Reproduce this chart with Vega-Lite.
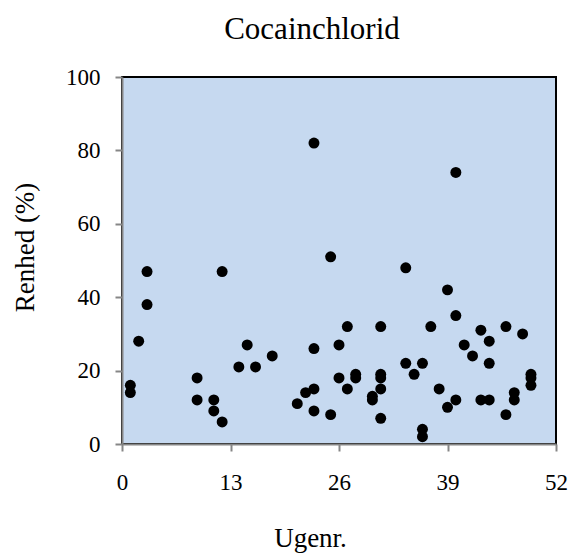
{
  "$schema": "https://vega.github.io/schema/vega-lite/v6.json",
  "width": 434,
  "height": 367,
  "autosize": "none",
  "padding": {"left": 122, "top": 77, "right": 15, "bottom": 109},
  "background": "white",
  "title": {
    "text": "Cocainchlorid",
    "font": "Liberation Serif",
    "fontSize": 31,
    "fontWeight": "normal",
    "color": "black",
    "anchor": "middle",
    "baseline": "alphabetic",
    "offset": 28,
    "dx": -27,
    "dy": 32
  },
  "config": {
    "view": {"fill": "#C6D9F0", "stroke": "black", "strokeWidth": 2},
    "axis": {
      "grid": false,
      "domainColor": "#868686",
      "domainWidth": 2,
      "tickColor": "#868686",
      "tickWidth": 2,
      "tickSize": 7,
      "labelFont": "Liberation Serif",
      "labelFontSize": 23,
      "labelColor": "black",
      "titleFont": "Liberation Serif",
      "titleFontSize": 27,
      "titleFontWeight": "normal",
      "titleColor": "black"
    }
  },
  "data": {
    "values": [
      {"ugenr": 1, "renhed": 16}, {"ugenr": 1, "renhed": 14}, {"ugenr": 2, "renhed": 28},
      {"ugenr": 3, "renhed": 47}, {"ugenr": 3, "renhed": 38}, {"ugenr": 9, "renhed": 18},
      {"ugenr": 9, "renhed": 12}, {"ugenr": 11, "renhed": 12}, {"ugenr": 11, "renhed": 9},
      {"ugenr": 12, "renhed": 47}, {"ugenr": 12, "renhed": 6}, {"ugenr": 14, "renhed": 21},
      {"ugenr": 15, "renhed": 27}, {"ugenr": 16, "renhed": 21}, {"ugenr": 18, "renhed": 24},
      {"ugenr": 21, "renhed": 11}, {"ugenr": 22, "renhed": 14}, {"ugenr": 23, "renhed": 82},
      {"ugenr": 23, "renhed": 26}, {"ugenr": 23, "renhed": 15}, {"ugenr": 23, "renhed": 9},
      {"ugenr": 25, "renhed": 51}, {"ugenr": 25, "renhed": 8}, {"ugenr": 26, "renhed": 27},
      {"ugenr": 26, "renhed": 18}, {"ugenr": 27, "renhed": 32}, {"ugenr": 27, "renhed": 15},
      {"ugenr": 28, "renhed": 19}, {"ugenr": 28, "renhed": 18}, {"ugenr": 30, "renhed": 13},
      {"ugenr": 30, "renhed": 12}, {"ugenr": 31, "renhed": 32}, {"ugenr": 31, "renhed": 19},
      {"ugenr": 31, "renhed": 18}, {"ugenr": 31, "renhed": 15}, {"ugenr": 31, "renhed": 7},
      {"ugenr": 34, "renhed": 48}, {"ugenr": 34, "renhed": 22}, {"ugenr": 35, "renhed": 19},
      {"ugenr": 36, "renhed": 22}, {"ugenr": 36, "renhed": 4}, {"ugenr": 36, "renhed": 2},
      {"ugenr": 37, "renhed": 32}, {"ugenr": 38, "renhed": 15}, {"ugenr": 39, "renhed": 42},
      {"ugenr": 39, "renhed": 10}, {"ugenr": 40, "renhed": 74}, {"ugenr": 40, "renhed": 35},
      {"ugenr": 40, "renhed": 12}, {"ugenr": 41, "renhed": 27}, {"ugenr": 42, "renhed": 24},
      {"ugenr": 43, "renhed": 31}, {"ugenr": 43, "renhed": 12}, {"ugenr": 44, "renhed": 28},
      {"ugenr": 44, "renhed": 22}, {"ugenr": 44, "renhed": 12}, {"ugenr": 46, "renhed": 32},
      {"ugenr": 46, "renhed": 8}, {"ugenr": 47, "renhed": 14}, {"ugenr": 47, "renhed": 12},
      {"ugenr": 48, "renhed": 30}, {"ugenr": 49, "renhed": 19}, {"ugenr": 49, "renhed": 18},
      {"ugenr": 49, "renhed": 16}
    ]
  },
  "mark": {"type": "point", "shape": "circle", "filled": true, "color": "black", "opacity": 1, "size": 120},
  "encoding": {
    "x": {
      "field": "ugenr",
      "type": "quantitative",
      "scale": {"domain": [0, 52], "nice": false, "zero": false},
      "axis": {
        "title": "Ugenr.",
        "values": [0, 13, 26, 39, 52],
        "labelPadding": 20,
        "labelFlush": false,
        "titleBaseline": "alphabetic",
        "titleX": 188,
        "titleY": 102,
        "titleAnchor": "middle"
      }
    },
    "y": {
      "field": "renhed",
      "type": "quantitative",
      "scale": {"domain": [0, 100], "nice": false},
      "axis": {
        "title": "Renhed (%)",
        "values": [0, 20, 40, 60, 80, 100],
        "labelPadding": 15,
        "labelFlush": false,
        "titleBaseline": "alphabetic",
        "titleAngle": -90,
        "titleX": -89,
        "titleY": 170,
        "titleAnchor": "middle"
      }
    }
  }
}
